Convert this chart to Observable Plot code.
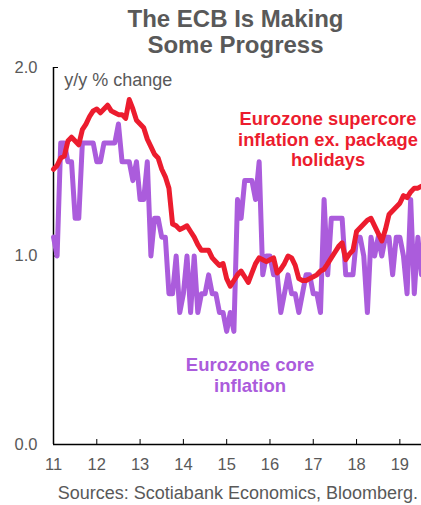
<!DOCTYPE html>
<html>
<head>
<meta charset="utf-8">
<script src="https://cdn.jsdelivr.net/npm/d3@7"></script>
<script src="https://cdn.jsdelivr.net/npm/@observablehq/plot@0.6"></script>
<style>
  html, body { margin: 0; padding: 0; background: #fff; }
  body { width: 421px; height: 505px; overflow: hidden; font-family: "Liberation Sans", Arial, sans-serif; }
  #title { height: 58px; box-sizing: border-box; padding-top: 6px; padding-left: 50px; text-align: center;
           font-weight: bold; font-size: 24px; line-height: 26px; color: #595959; }
  #chart svg { display: block; }
  #source { text-align: right; padding-right: 3px; font-size: 18px; line-height: 26px; color: #595959; }
</style>
</head>
<body>
<div id="title">The ECB Is Making<br>Some Progress</div>
<div id="chart"></div>
<div id="source">Sources: Scotiabank Economics, Bloomberg.</div>
<script>
// ---- data (monthly, Jan 2011 .. Jul 2019) ----
const startYear = 2011;
const coreInflation = [
  1.1, 1.0, 1.6, 1.6, 1.5, 1.5, 1.2, 1.2, 1.6, 1.6, 1.6, 1.6,   // 2011
  1.5, 1.5, 1.6, 1.6, 1.6, 1.6, 1.7, 1.5, 1.5, 1.5, 1.4, 1.5,   // 2012
  1.3, 1.3, 1.5, 1.0, 1.2, 1.2, 1.1, 1.1, 0.8, 0.8, 1.0, 0.7,   // 2013
  0.8, 1.0, 0.7, 1.0, 0.7, 0.8, 0.8, 0.9, 0.8, 0.8, 0.7, 0.7,   // 2014
  0.6, 0.7, 0.6, 1.3, 1.2, 1.4, 1.4, 1.4, 1.3, 1.5, 0.9, 1.0,   // 2015
  1.0, 0.9, 0.9, 0.7, 0.8, 0.9, 0.8, 0.8, 0.7, 0.8, 0.9, 0.9,   // 2016
  0.8, 0.8, 0.7, 1.3, 0.9, 1.2, 1.2, 1.2, 1.2, 0.9, 0.9, 0.9,   // 2017
  1.1, 1.1, 1.0, 0.7, 1.1, 1.0, 1.1, 1.0, 1.1, 1.1, 0.9, 1.1,   // 2018
  1.1, 1.0, 0.8, 1.3, 0.8, 1.1, 0.9                             // 2019
];
const supercoreExPackage = [
  1.46, 1.48, 1.52, 1.53, 1.61, 1.63, 1.61, 1.59, 1.67, 1.70, 1.74, 1.77,   // 2011
  1.78, 1.76, 1.78, 1.80, 1.77, 1.76, 1.75, 1.75, 1.73, 1.83, 1.78, 1.72,   // 2012
  1.70, 1.68, 1.62, 1.58, 1.54, 1.52, 1.46, 1.42, 1.36, 1.17, 1.16, 1.14,   // 2013
  1.15, 1.16, 1.13, 1.10, 1.06, 1.03, 1.03, 1.03, 0.99, 0.97, 0.95, 0.96,   // 2014
  0.88, 0.84, 0.87, 0.90, 0.92, 0.89, 0.86, 0.91, 0.96, 0.99, 0.98, 0.97,   // 2015
  0.98, 0.99, 0.91, 0.93, 0.96, 1.00, 0.99, 0.95, 0.88, 0.87, 0.87, 0.88,   // 2016
  0.89, 0.90, 0.92, 0.93, 0.96, 0.99, 1.02, 1.05, 1.07, 0.98, 1.01, 1.03,   // 2017
  1.13, 1.15, 1.17, 1.19, 1.20, 1.16, 1.12, 1.08, 1.14, 1.22, 1.24, 1.26,   // 2018
  1.28, 1.32, 1.31, 1.34, 1.36, 1.36, 1.37                                  // 2019
];
const xTicks = [2011, 2012, 2013, 2014, 2015, 2016, 2017, 2018, 2019];
const xTickLabels = ["11", "12", "13", "14", "15", "16", "17", "18", "19"];
const yTicks = [0, 1, 2];
const yTickLabels = ["0.0", "1.0", "2.0"];
const unitLabel = "y/y % change";
const supercoreLabel = "Eurozone supercore\ninflation ex. package\nholidays";
const coreLabel = "Eurozone core\ninflation";

// ---- build ----
const RED = "#ec1c2e", PURPLE = "#ab5cdc", GRAY = "#595959";
const dateOf = i => startYear + i / 12;
const core = coreInflation.map((v, i) => ({x: dateOf(i), y: v}));
const supercore = supercoreExPackage.map((v, i) => ({x: dateOf(i), y: v}));
const xEnd = dateOf(coreInflation.length - 1);

const chart = Plot.plot({
  width: 421, height: 422,
  marginLeft: 53, marginRight: 0, marginTop: 9, marginBottom: 36,
  style: {fontFamily: "'Liberation Sans', Arial, sans-serif", fontSize: "16.5px", color: GRAY, background: "#fff", overflow: "visible"},
  x: {domain: [startYear, xEnd]},
  y: {domain: [0, 2]},
  marks: [
    Plot.axisX({ticks: xTicks, tickSize: -5, tickFormat: () => "", stroke: "#000", label: null}),
    Plot.axisX({ticks: xTicks, tickSize: 0, tickPadding: 14, tickFormat: d => xTickLabels[xTicks.indexOf(d)], fill: GRAY, label: null}),
    Plot.axisY({ticks: yTicks, tickSize: -5, tickFormat: () => "", stroke: "#000", label: null}),
    Plot.axisY({ticks: yTicks, tickSize: 0, tickPadding: 16, tickFormat: d => yTickLabels[yTicks.indexOf(d)], fill: GRAY, label: null}),
    Plot.ruleY([0], {stroke: "#000", strokeWidth: 1.5}),
    Plot.ruleX([startYear], {stroke: "#000", strokeWidth: 1.5}),
    Plot.line(core, {x: "x", y: "y", stroke: PURPLE, strokeWidth: 5, strokeLinejoin: "round"}),
    Plot.line(supercore, {x: "x", y: "y", stroke: RED, strokeWidth: 5, strokeLinejoin: "round"}),
    Plot.text([unitLabel], {x: 2011.25, y: 1.93, text: d => d, textAnchor: "start", fill: GRAY, fontSize: 18}),
    Plot.text([supercoreLabel], {x: 2017.34, y: 1.62, text: d => d, fill: RED, fontWeight: "bold", fontSize: 18.3, lineHeight: 1.12}),
    Plot.text([coreLabel], {x: 2015.54, y: 0.37, text: d => d, fill: PURPLE, fontWeight: "bold", fontSize: 18.5, lineHeight: 1.17})
  ]
});
document.getElementById("chart").appendChild(chart);
</script>
</body>
</html>
